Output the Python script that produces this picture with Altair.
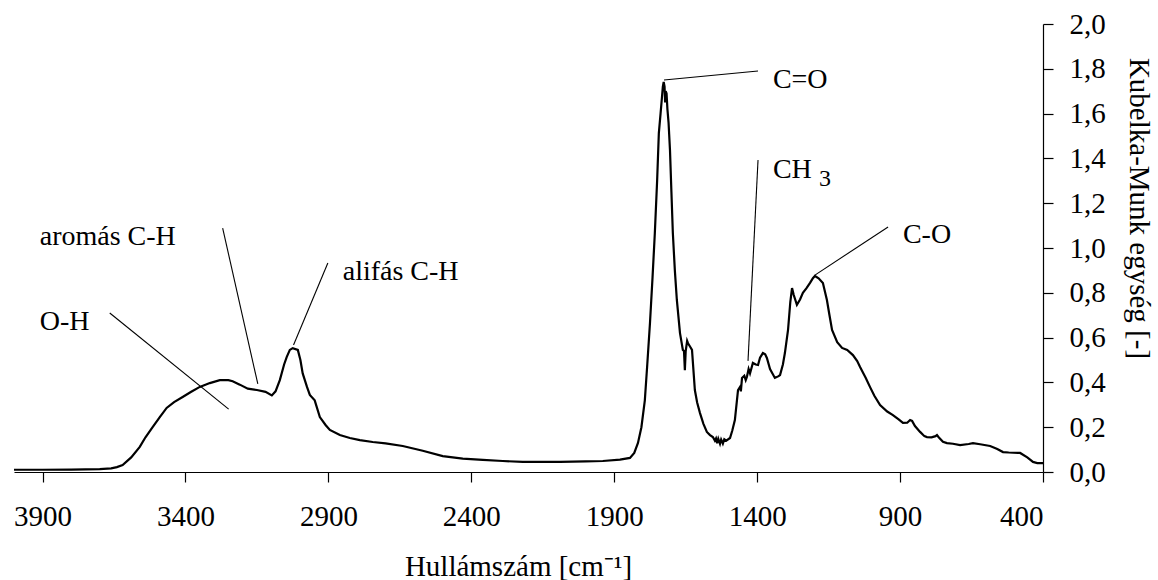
import altair as alt
import pandas as pd

# ---- spectrum ----
wavenumber = [
    4000, 3900, 3800, 3700, 3660, 3640, 3620, 3590, 3560, 3540, 3515, 3490, 3466, 3440,
    3410, 3380, 3350, 3315, 3280, 3250, 3235, 3210, 3182, 3150, 3120, 3098, 3085, 3070,
    3055, 3046, 3035, 3025, 3007, 2998, 2990, 2975, 2965, 2948, 2930, 2910, 2895, 2860,
    2825, 2790, 2745, 2700, 2640, 2570, 2500, 2430, 2360, 2290, 2220, 2150, 2090, 2000,
    1940, 1880, 1845, 1830, 1817, 1805, 1793, 1785, 1775, 1766, 1758, 1750, 1744, 1738,
    1733, 1730, 1727, 1724, 1722, 1720, 1717, 1714, 1710, 1705, 1700, 1695, 1688, 1681,
    1670, 1660, 1656, 1653, 1650, 1645, 1642, 1635, 1628, 1618, 1610, 1600, 1588, 1576,
    1565, 1555, 1548, 1544, 1540, 1536, 1530, 1526, 1520, 1515, 1508, 1495, 1487, 1478,
    1467, 1460, 1457, 1453, 1445, 1440, 1436, 1430, 1425, 1415, 1405, 1397, 1390, 1380,
    1372, 1366, 1355, 1338, 1325, 1320, 1310, 1303, 1292, 1284, 1278, 1272, 1261, 1250,
    1240, 1228, 1215, 1205, 1198, 1185, 1170, 1156, 1147, 1138, 1120, 1103, 1085, 1065,
    1050, 1040, 1020, 1005, 990, 970, 945, 925, 905, 890, 875, 865, 858, 848, 830, 815,
    806, 790, 776, 771, 765, 750, 736, 715, 690, 660, 645, 620, 585, 560, 540, 520, 480,
    455, 435, 420, 400,
]
kubelka_munk = [
    0.010, 0.010, 0.011, 0.013, 0.016, 0.022, 0.031, 0.065, 0.112, 0.155, 0.200, 0.245, 0.286, 0.312,
    0.335, 0.358, 0.380, 0.397, 0.410, 0.410, 0.405, 0.390, 0.372, 0.366, 0.358, 0.342, 0.360, 0.410,
    0.480, 0.513, 0.545, 0.553, 0.545, 0.500, 0.440, 0.380, 0.344, 0.320, 0.245, 0.210, 0.188, 0.165,
    0.152, 0.142, 0.134, 0.128, 0.116, 0.095, 0.071, 0.060, 0.054, 0.049, 0.045, 0.045, 0.045, 0.047,
    0.049, 0.055, 0.063, 0.085, 0.130, 0.200, 0.320, 0.470, 0.665, 0.870, 1.067, 1.300, 1.513, 1.600,
    1.674, 1.720, 1.741, 1.720, 1.650, 1.700, 1.690, 1.620, 1.560, 1.437, 1.250, 1.067, 0.900, 0.768,
    0.620, 0.545, 0.540, 0.455, 0.540, 0.585, 0.575, 0.560, 0.545, 0.366, 0.310, 0.263, 0.215, 0.179,
    0.165, 0.156, 0.140, 0.150, 0.128, 0.148, 0.126, 0.145, 0.127, 0.146, 0.140, 0.152, 0.185, 0.232,
    0.366, 0.380, 0.360, 0.420, 0.430, 0.410, 0.424, 0.460, 0.440, 0.487, 0.480, 0.478, 0.510, 0.531,
    0.525, 0.509, 0.460, 0.420, 0.428, 0.433, 0.480, 0.531, 0.634, 0.760, 0.821, 0.790, 0.746, 0.770,
    0.800, 0.820, 0.844, 0.865, 0.875, 0.865, 0.844, 0.768, 0.700, 0.634, 0.580, 0.554, 0.545, 0.522,
    0.495, 0.469, 0.420, 0.379, 0.340, 0.299, 0.270, 0.254, 0.235, 0.219, 0.220, 0.232, 0.228, 0.205, 0.179, 0.160,
    0.156, 0.155, 0.160, 0.165, 0.155, 0.135, 0.129, 0.126, 0.120, 0.125, 0.129, 0.124, 0.116, 0.103, 0.089, 0.087, 0.085,
    0.065, 0.045, 0.040, 0.040,
]

x_ticks = [3900, 3400, 2900, 2400, 1900, 1400, 900, 400]
y_ticks = [0.0, 0.2, 0.4, 0.6, 0.8, 1.0, 1.2, 1.4, 1.6, 1.8, 2.0]

# ---- annotations ----
label_text = ["O-H", "aromás C-H", "alifás C-H", "C=O", "CH", "C-O"]
label_wn = [3910, 3910, 2850, 1345, 1345, 890]
label_km = [0.67, 1.049, 0.893, 1.75, 1.348, 1.058]

sub_text = ["3"]
sub_wn = [1184]
sub_km = [1.31]

leader_wn = [3665, 3270, 2902, 1726, 1397, 1198]
leader_km = [0.71, 1.089, 0.933, 1.75, 1.393, 0.879]
leader_wn2 = [3249, 3147, 3022, 1397, 1432, 942]
leader_km2 = [0.281, 0.393, 0.567, 1.79, 0.496, 1.094]

FONT = "Liberation Serif"

spec = pd.DataFrame({"wn": wavenumber, "km": kubelka_munk})
labels = pd.DataFrame({"wn": label_wn, "km": label_km, "t": label_text})
subs = pd.DataFrame({"wn": sub_wn, "km": sub_km, "t": sub_text})
leaders = pd.DataFrame({"wn": leader_wn, "km": leader_km, "wn2": leader_wn2, "km2": leader_km2})

x_scale = alt.Scale(domain=[400, 4000], reverse=True, nice=False, zero=False)
y_scale = alt.Scale(domain=[0, 2], nice=False)

x_axis = alt.Axis(
    values=x_ticks, format="d", title="Hullámszám [cm⁻¹]",
    tickSize=10, labelPadding=20, grid=False,
    titleX=504, titleY=103, titleBaseline="alphabetic", titleFontSize=29,
)
y_axis = alt.Axis(
    orient="right", values=y_ticks,
    labelExpr="replace(format(datum.value, '.1f'), '.', ',')",
    title="Kubelka-Munk egység [-]", tickSize=10, labelPadding=16, grid=False,
    titleAngle=90, titleX=95, titleY=184, titleBaseline="middle", titleAlign="center",
    titleFontSize=29,
)


def xe():
    return alt.X("wn:Q", scale=x_scale, axis=x_axis)


def ye():
    return alt.Y("km:Q", scale=y_scale, axis=y_axis)


line = alt.Chart(spec).mark_line(color="black", strokeWidth=2.2).encode(x=xe(), y=ye())

rules = alt.Chart(leaders).mark_rule(color="black", strokeWidth=1.1).encode(
    x=xe(), y=ye(), x2="wn2:Q", y2="km2:Q"
)

texts = alt.Chart(labels).mark_text(
    align="left", baseline="middle", font=FONT, fontSize=28, color="black"
).encode(x=xe(), y=ye(), text="t:N")

sub = alt.Chart(subs).mark_text(
    align="left", baseline="middle", font=FONT, fontSize=24, color="black"
).encode(x=xe(), y=ye(), text="t:N")

chart = (
    alt.layer(line, rules, texts, sub)
    .properties(
        width=1029, height=448, autosize="none",
        padding={"left": 14, "top": 24, "right": 115, "bottom": 108},
    )
    .configure_view(stroke=None)
    .configure_axis(
        labelFont=FONT, labelFontSize=29, labelColor="black",
        titleFont=FONT, titleFontWeight="normal", titleColor="black",
        domainColor="black", tickColor="black", domainWidth=1.2, tickWidth=1.2,
    )
)

chart.save("out.html", embed_options={"renderer": "svg", "actions": False})
